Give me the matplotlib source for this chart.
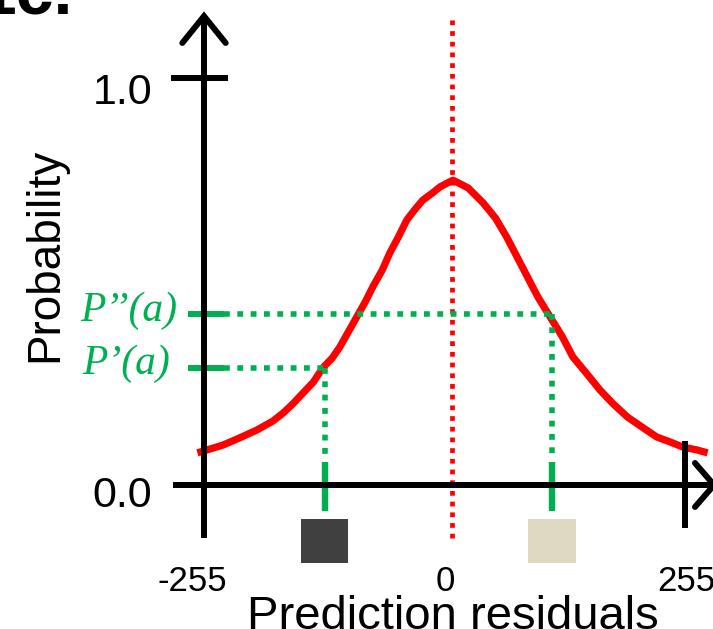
import matplotlib.pyplot as plt
from matplotlib.patches import Rectangle

plt.rcParams['font.family'] = ['Liberation Sans', 'DejaVu Sans']
plt.rcParams['lines.scale_dashes'] = False

# === DATA ===
# residual distribution curve
resid_x = [-262, -235, -217, -199, -182, -171, -161, -150, -139, -129, -119, -111,
           -102, -93, -84, -76, -66, -58, -49, -40, -31, -23, -13, -5, 3, 9,
           25, 41, 54, 66, 77, 88, 99, 112, 125, 136, 151, 165, 179, 194, 209,
           225, 239, 253, 268, 279]
prob_y = [0.079, 0.098, 0.116, 0.135, 0.157, 0.177, 0.199, 0.226, 0.253, 0.288,
          0.312, 0.339, 0.376, 0.413, 0.450, 0.487, 0.528, 0.570, 0.609, 0.651,
          0.678, 0.700, 0.717, 0.732, 0.742, 0.749, 0.730, 0.693, 0.656, 0.609,
          0.560, 0.511, 0.462, 0.413, 0.364, 0.315, 0.273, 0.233, 0.199, 0.167,
          0.143, 0.118, 0.106, 0.093, 0.086, 0.079]

mean_x = 8                       # red dotted centre line
point_x = [-127, 114]            # residuals of the two pixels
point_y = [0.288, 0.420]         # P'(a), P''(a)
point_labels = ['P\u2019(a)', 'P\u2019\u2019(a)']
label_right = [-291, -283.6]
swatch_colors = ['#404040', '#DDD9C3']

x_ticks = [-255, 0, 255]
x_tick_labels = ['-255', '0', '255']
y_ticks = [0.0, 1.0]
y_tick_labels = ['0.0', '1.0']

GREEN = '#00B050'
RED = '#FF0000'

fig = plt.figure(figsize=(7.13, 6.29), dpi=100)
ax = fig.add_axes([0, 0, 1, 1])
ax.set_xlim(-471.3, 284.7)
ax.set_ylim(-0.3538, 1.1916)
ax.axis('off')

# curve
ax.plot(resid_x, prob_y, color=RED, lw=5.2, solid_capstyle='butt',
        solid_joinstyle='round', zorder=2)

# red dotted mean line
ax.plot([mean_x, mean_x], [-0.13, 1.155], color=RED, lw=3.4,
        dashes=(3.4, 4.3), zorder=1)

# green guide lines
for px, py in zip(point_x, point_y):
    # horizontal: short solid tick then dots to the curve
    ax.plot([-272, -234], [py, py], color=GREEN, lw=4.3, solid_capstyle='butt', zorder=3)
    ax.plot([-234, px], [py, py], color=GREEN, lw=4.0, dashes=(4.2, 5.4), zorder=3)
    # vertical: dots down, then a solid tick across the axis
    ax.plot([px, px], [py, 0.074], color=GREEN, lw=4.0, dashes=(4.2, 5.4), zorder=3)
    ax.plot([px, px], [0.057, -0.064], color=GREEN, lw=4.6, solid_capstyle='butt', zorder=3)

# colour swatches under the x axis
for px, c in zip(point_x, swatch_colors):
    ax.add_patch(Rectangle((px - 25, -0.192), 50, 0.108, facecolor=c,
                           edgecolor='none', zorder=3))

# axes drawn by hand (arrows)
k = dict(color='black', lw=4.3, solid_capstyle='butt', zorder=4)
ax.plot([-255, -255], [-0.13, 1.152], **k)
ax.plot([-278, -255, -232], [1.086, 1.152, 1.086], color='black', lw=4.3,
        solid_capstyle='round', solid_joinstyle='miter', zorder=4)
ax.plot([-290, -230], [1.0, 1.0], **k)
ax.plot([-288, 292], [0, 0], **k)
ax.plot([265.6, 285.8, 265.6], [0.054, 0, -0.054], color='black', lw=4.3,
        solid_capstyle='round', solid_joinstyle='miter', zorder=4)
ax.plot([255, 255], [-0.106, 0.108], **k)

# tick labels
for v, t in zip(x_ticks, x_tick_labels):
    ax.text(v + (-12 if v < 0 else 1), -0.2604, t, fontsize=25, ha='center', va='baseline')
for v, t in zip(y_ticks, y_tick_labels):
    ax.text(-310, v - (0.054 if v == 0 else 0.064), t, fontsize=31, ha='right', va='baseline')

# green point labels
for py, xr, lab in zip(point_y, label_right, point_labels):
    ax.text(xr, py - 0.016, lab, color=GREEN, fontsize=30, ha='right', va='baseline',
            family=['Liberation Serif', 'DejaVu Serif'], style='italic')

# axis titles
ax.text(-423.6, 0.565, 'Probability', fontsize=33, rotation=90,
        ha='center', va='center')
ax.text(9, -0.3535, 'Prediction residuals', fontsize=34, ha='center', va='baseline')

# panel letter, partly cut off at the top
fig.text(73 / 713, 1 - 14 / 629, '1c.', fontsize=49, fontweight='bold',
         ha='right', va='baseline')

fig.savefig('out.png', dpi=100)
